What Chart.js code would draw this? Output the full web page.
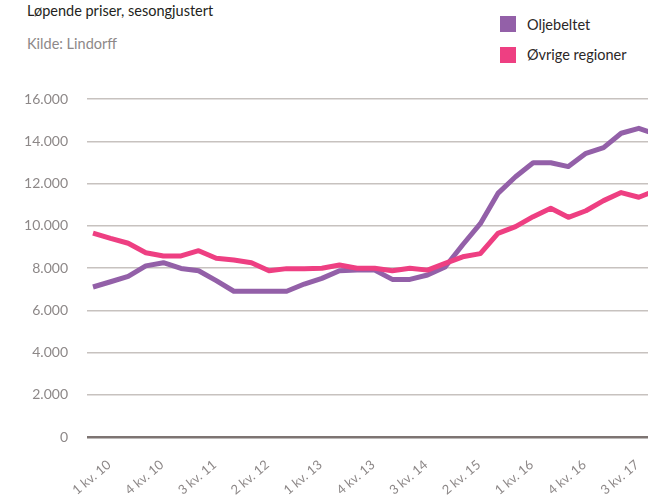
<!DOCTYPE html>
<html lang="no">
<head>
<meta charset="utf-8">
<title>Løpende priser, sesongjustert</title>
<script src="https://cdn.jsdelivr.net/npm/chart.js@4.4.1/dist/chart.umd.min.js"></script>
<style>
  html, body { margin: 0; padding: 0; background: #fff; overflow: hidden; }
  body { width: 648px; height: 495px; position: relative; font-family: Lato, "Open Sans", sans-serif; }
  #wrap { position: absolute; left: 0; top: 0; width: 680px; height: 520px; }
  .title { position: absolute; left: 27px; top: 2px; font-size: 14.5px; color: #231f20; white-space: nowrap; }
  .source { position: absolute; left: 27px; top: 35px; font-size: 14.5px; color: #8d8888; white-space: nowrap; }
  #legend { position: absolute; left: 500px; top: 16px; font-size: 14.5px; color: #2b2727; }
  .item { display: flex; align-items: center; height: 16px; margin-bottom: 14.7px; white-space: nowrap; }
  .box { width: 16px; height: 16px; margin-right: 11px; }
</style>
</head>
<body>
<div class="title">Løpende priser, sesongjustert</div>
<div class="source">Kilde: Lindorff</div>
<div id="legend"></div>
<div id="wrap"><canvas id="chart" width="680" height="520"></canvas></div>
<script>
// quarters, 1st quarter 2010 to 1st quarter 2018 (the last one runs off the picture)
const quarters = [
  '1 kv. 10', '2 kv. 10', '3 kv. 10', '4 kv. 10',
  '1 kv. 11', '2 kv. 11', '3 kv. 11', '4 kv. 11',
  '1 kv. 12', '2 kv. 12', '3 kv. 12', '4 kv. 12',
  '1 kv. 13', '2 kv. 13', '3 kv. 13', '4 kv. 13',
  '1 kv. 14', '2 kv. 14', '3 kv. 14', '4 kv. 14',
  '1 kv. 15', '2 kv. 15', '3 kv. 15', '4 kv. 15',
  '1 kv. 16', '2 kv. 16', '3 kv. 16', '4 kv. 16',
  '1 kv. 17', '2 kv. 17', '3 kv. 17', '4 kv. 17',
  '1 kv. 18'
];
const shownQuarters = ['1 kv. 10', '4 kv. 10', '3 kv. 11', '2 kv. 12', '1 kv. 13', '4 kv. 13',
  '3 kv. 14', '2 kv. 15', '1 kv. 16', '4 kv. 16', '3 kv. 17'];
const yTicks = [0, 2000, 4000, 6000, 8000, 10000, 12000, 14000, 16000];

const oilBelt = [7100, 7350, 7600, 8100, 8250, 7980, 7870, 7400, 6900, 6900, 6900, 6900,
  7240, 7510, 7870, 7900, 7900, 7460, 7460, 7670, 8050, 9100, 10100, 11530,
  12320, 12985, 12985, 12800, 13430, 13700, 14380, 14610, 14330];
const otherRegions = [9650, 9400, 9170, 8725, 8570, 8570, 8820, 8460, 8380, 8250, 7870, 7970,
  7970, 7990, 8140, 7990, 7990, 7870, 7990, 7900, 8220, 8530, 8680, 9640,
  9955, 10430, 10825, 10400, 10710, 11190, 11570, 11350, 11680];

const seriesNames = ['Oljebeltet', 'Øvrige regioner'];
const seriesColors = ['#9360a8', '#ee3f82'];

function formatNo(v) {
  return String(v).replace(/\B(?=(\d{3})+(?!\d))/g, '.');
}

function toPoints(values) {
  return values.map((v, i) => ({ x: i, y: v }));
}

// legend in html, squares like the original
const legendEl = document.getElementById('legend');
seriesNames.forEach((name, i) => {
  const item = document.createElement('div');
  item.className = 'item';
  item.innerHTML = '<span class="box" style="background:' + seriesColors[i] + '"></span>' + name;
  legendEl.appendChild(item);
});

Chart.defaults.font.family = 'Lato, "Open Sans", sans-serif';

const ctx = document.getElementById('chart').getContext('2d');
new Chart(ctx, {
  type: 'line',
  data: {
    datasets: [
      { label: seriesNames[0], data: toPoints(oilBelt), borderColor: seriesColors[0], order: 1 },
      { label: seriesNames[1], data: toPoints(otherRegions), borderColor: seriesColors[1], order: 0 }
    ]
  },
  options: {
    responsive: false,
    animation: false,
    layout: { padding: { top: 99, right: 6, left: 0, bottom: 0 } },
    plugins: { legend: { display: false }, tooltip: { enabled: false } },
    elements: {
      point: { radius: 0 },
      line: { borderWidth: 5, tension: 0, borderJoinStyle: 'round', fill: false }
    },
    scales: {
      x: {
        type: 'linear',
        min: -0.34,
        max: 33,
        afterBuildTicks: s => { s.ticks = shownQuarters.map(q => ({ value: quarters.indexOf(q) })); },
        afterFit: s => { s.height = 83; s.paddingLeft = 0; s.paddingRight = 0; },
        grid: { display: false },
        border: { display: false },
        ticks: {
          autoSkip: false,
          minRotation: 40,
          maxRotation: 40,
          labelOffset: 16,
          padding: 12,
          color: '#8d8888',
          font: { size: 13 },
          callback: v => quarters[v]
        }
      },
      y: {
        min: 0,
        max: 16000,
        afterBuildTicks: s => { s.ticks = yTicks.map(v => ({ value: v })); },
        afterFit: s => { s.width = 87; },
        border: { display: false },
        grid: {
          drawTicks: false,
          color: c => c.tick.value === 0 ? '#7d7472' : '#c7c2bf',
          lineWidth: c => c.tick.value === 0 ? 2.5 : 1.5
        },
        ticks: {
          padding: 19,
          color: '#8d8888',
          font: { size: 14 },
          callback: v => formatNo(v)
        }
      }
    }
  }
});
</script>
</body>
</html>
